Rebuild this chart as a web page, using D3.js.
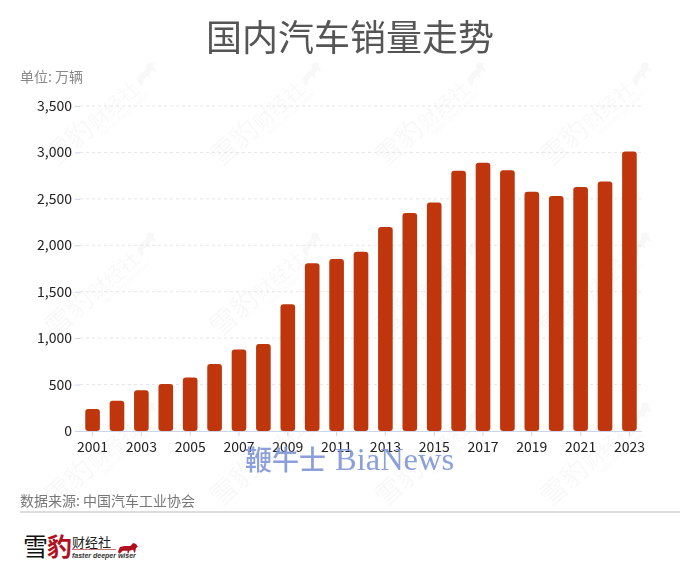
<!DOCTYPE html>
<html><head><meta charset="utf-8">
<script src="https://cdn.jsdelivr.net/npm/d3@7"></script>
<style>html,body{margin:0;padding:0;background:#fff}svg{display:block}</style></head>
<body><svg id="c" width="700" height="576"></svg>
<script>
const years=["2001","2002","2003","2004","2005","2006","2007","2008","2009","2010","2011","2012","2013","2014","2015","2016","2017","2018","2019","2020","2021","2022","2023"];
const sales=[236,325,439,507,576,722,879,938,1364,1806,1851,1931,2198,2349,2460,2803,2888,2808,2577,2531,2627,2686,3009];
const yTicks=[0,500,1000,1500,2000,2500,3000,3500];
const title="国内汽车销量走势", unit="单位: 万辆", source="数据来源: 中国汽车工业协会";
const CJK="'Noto Sans CJK SC','Noto Sans',sans-serif";
const svg=d3.select("#c");
const x=d3.scaleBand().domain(years).range([80,642]).paddingInner(0.4).paddingOuter(0.215);
const y=d3.scaleLinear().domain([0,3500]).range([431,106]);

// watermarks
const wmCols=[103,268,433,598], wmRows=[113,283,453];
const tiger="M0,7 l2,-5 l5,-1 l6,0 l3,-3 l3,1 l2,3 l-2,1 l-1,5 l-1,0 l-1,-3 l-4,1 l-1,3 l-1,0 l0,-3 l-5,0 l-3,3 l-1,0 Z";
const wm=svg.append("g").attr("fill","#000").attr("opacity",0.028).style("font-family",CJK);
wmRows.forEach(r=>wmCols.forEach(c=>{
  const g=wm.append("g").attr("transform",`translate(${c},${r}) rotate(-42)`);
  const t=g.append("text").attr("x",-72).attr("y",9);
  t.append("tspan").attr("font-size",27).text("雪豹");
  t.append("tspan").attr("font-size",20).attr("dx",1).text("财经社");
  g.append("path").attr("transform","translate(46,-5) scale(1.2)").attr("d",tiger);
  g.append("text").attr("x",-14).attr("y",18).attr("font-size",7).text("faster deeper wiser");
}));

// grid
svg.append("g").selectAll("line").data(yTicks.filter(d=>d>0)).join("line")
 .attr("x1",80).attr("x2",642).attr("y1",d=>y(d)).attr("y2",d=>y(d))
 .attr("stroke","#e6e6e6").attr("stroke-dasharray","3,3");

// bars
svg.append("g").selectAll("path").data(years).join("path")
 .attr("fill","#bf360c")
 .attr("d",(d,i)=>{const X=x(d),W=x.bandwidth(),T=y(sales[i]),B=y(0),r=3;
   return `M${X},${B-r}V${T+r}Q${X},${T} ${X+r},${T}H${X+W-r}Q${X+W},${T} ${X+W},${T+r}V${B-r}Q${X+W},${B} ${X+W-r},${B}H${X+r}Q${X},${B} ${X},${B-r}Z`;});

// y axis
const ya=svg.append("g").attr("transform","translate(75,0)").call(d3.axisLeft(y).tickValues(yTicks).tickSize(0).tickPadding(3).tickFormat(d3.format(",")));
ya.select(".domain").remove();
ya.selectAll("text").attr("fill","#222").style("font-family",CJK).style("font-size","14px");
ya.selectAll("g.tick").append("line").attr("x1",0).attr("x2",5).attr("stroke","#ccd6eb");

// x axis
const xa=svg.append("g").attr("transform","translate(0,431)").call(d3.axisBottom(x).tickValues(years.filter((d,i)=>i%2==0)).tickSize(5).tickPadding(6));
xa.select(".domain").attr("stroke","#ccd6eb").attr("d","M75,0.5H642");
xa.selectAll(".tick line").attr("stroke","#ccd6eb");
xa.selectAll("text").attr("fill","#222").style("font-family",CJK).style("font-size","14px");

// texts
svg.append("text").attr("x",350).attr("y",51).attr("text-anchor","middle").attr("fill","#555").style("font-family",CJK).style("font-size","36px").text(title);
svg.append("text").attr("x",20).attr("y",82).attr("fill","#888").style("font-family",CJK).style("font-size","14px").text(unit);
svg.append("text").attr("x",20).attr("y",506).attr("fill","#777").style("font-family",CJK).style("font-size","14px").text(source);
svg.append("line").attr("x1",20).attr("x2",680).attr("y1",512).attr("y2",512).attr("stroke","#ddd").attr("stroke-width",2);

// overlay
const ov=svg.append("g").attr("fill","#7f95d8").attr("opacity",0.9);
ov.append("text").attr("x",245).attr("y",470).style("font-family",CJK).style("font-weight",500).style("font-size","27px").text("鞭牛士");
ov.append("text").attr("x",335).attr("y",470).style("font-family","'Liberation Serif',serif").style("font-size","32.5px").text("BiaNews");

// logo
const lg=svg.append("g").style("font-family",CJK);
lg.append("text").attr("x",23).attr("y",556).attr("fill","#111").style("font-size","25px").text("雪");
lg.append("text").attr("x",47).attr("y",556).attr("fill","#b01020").style("font-size","25px").style("font-weight",700).text("豹");
lg.append("text").attr("x",72).attr("y",547).attr("fill","#222").style("font-size","13px").text("财经社");
lg.append("text").attr("x",72).attr("y",558).attr("fill","#333").style("font-family","'Liberation Sans',sans-serif").style("font-size","7px").style("font-style","italic").style("font-weight",700).text("faster deeper wiser");
lg.append("line").attr("x1",72).attr("x2",116).attr("y1",549.5).attr("y2",549.5).attr("stroke","#b01020").attr("stroke-width",0.6);
lg.append("path").attr("fill","#b01020").attr("transform","translate(118,545) scale(0.95)").attr("d",tiger);
</script></body></html>
